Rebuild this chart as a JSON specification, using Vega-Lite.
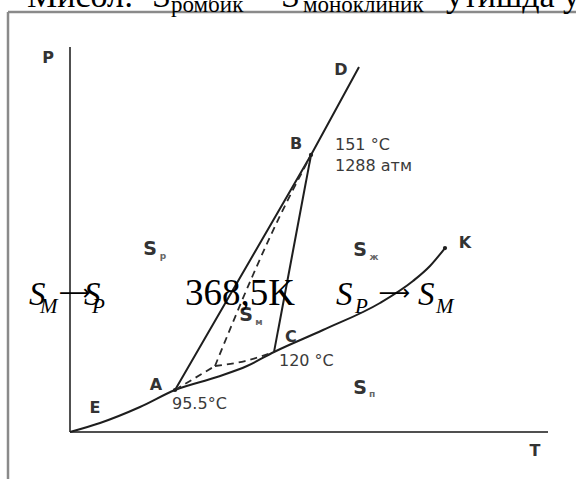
{
  "$schema": "https://vega.github.io/schema/vega-lite/v6.json",
  "width": 576,
  "height": 479,
  "autosize": {"type": "none"},
  "padding": 0,
  "background": "white",
  "config": {"view": {"stroke": null}},
  "datasets": {
    "frame": [
      {"edge": "left", "T": -12.97, "P": 109.09, "T2": -12.97, "P2": -13},
      {"edge": "top", "T": -12.97, "P": 109.09, "T2": 106, "P2": 109.09}
    ],
    "axes": [
      {"axis": "P", "T": 0, "P": 0, "T2": 0, "P2": 100},
      {"axis": "T", "T": 0, "P": 0, "T2": 100, "P2": 0}
    ],
    "curve": [
      {"i": 0, "T": 0, "P": 0},
      {"i": 1, "T": 6.28, "P": 2.34},
      {"i": 2, "T": 14.64, "P": 6.49},
      {"i": 3, "T": 21.97, "P": 10.91},
      {"i": 4, "T": 30.75, "P": 14.29},
      {"i": 5, "T": 37.03, "P": 17.14},
      {"i": 6, "T": 42.68, "P": 20.78},
      {"i": 7, "T": 52.93, "P": 26.49},
      {"i": 8, "T": 64.85, "P": 33.51},
      {"i": 9, "T": 71.76, "P": 39.22},
      {"i": 10, "T": 75.31, "P": 43.12},
      {"i": 11, "T": 78.45, "P": 47.79}
    ],
    "solid": [
      {"line": "ABD", "i": 0, "T": 21.97, "P": 10.91},
      {"line": "ABD", "i": 1, "T": 50.42, "P": 71.95},
      {"line": "ABD", "i": 2, "T": 60.46, "P": 94.81},
      {"line": "CB", "i": 0, "T": 42.68, "P": 20.78},
      {"line": "CB", "i": 1, "T": 50.42, "P": 71.95}
    ],
    "dashed": [
      {"line": "AO", "i": 0, "T": 21.97, "P": 10.91},
      {"line": "AO", "i": 1, "T": 30.33, "P": 17.14},
      {"line": "OC", "i": 0, "T": 30.33, "P": 17.14},
      {"line": "OC", "i": 1, "T": 36.61, "P": 18.44},
      {"line": "OC", "i": 2, "T": 42.68, "P": 20.78},
      {"line": "OB", "i": 0, "T": 30.33, "P": 17.14},
      {"line": "OB", "i": 1, "T": 38.28, "P": 40.78},
      {"line": "OB", "i": 2, "T": 41.84, "P": 50.65},
      {"line": "OB", "i": 3, "T": 50.42, "P": 71.95}
    ],
    "dots": [
      {"point": "A", "T": 21.97, "P": 10.91},
      {"point": "B", "T": 50.42, "P": 71.95},
      {"point": "K", "T": 78.45, "P": 47.79}
    ],
    "letters": [
      {"label": "P", "T": -4.6, "P": 97.14},
      {"label": "T", "T": 97.28, "P": -4.94},
      {"label": "E", "T": 5.23, "P": 6.23},
      {"label": "A", "T": 17.99, "P": 12.21},
      {"label": "B", "T": 47.28, "P": 74.81},
      {"label": "C", "T": 46.23, "P": 24.68},
      {"label": "D", "T": 56.69, "P": 94.03},
      {"label": "K", "T": 82.64, "P": 49.09}
    ],
    "values": [
      {"label": "95.5°C", "T": 21.34, "P": 7.27},
      {"label": "120 °C", "T": 43.72, "P": 18.44},
      {"label": "151 °C", "T": 55.44, "P": 74.55},
      {"label": "1288 атм", "T": 55.44, "P": 69.09}
    ],
    "phases": [
      {"phase": "ромбик", "label": "S", "T": 16.74, "P": 47.53},
      {"phase": "суюқ", "label": "S", "T": 60.67, "P": 47.27},
      {"phase": "моноклиник", "label": "S", "T": 36.82, "P": 30.39},
      {"phase": "буғ", "label": "S", "T": 60.67, "P": 11.43}
    ],
    "phaseSubs": [
      {"phase": "ромбик", "label": "р", "T": 19.46, "P": 45.71},
      {"phase": "суюқ", "label": "ж", "T": 63.6, "P": 45.45},
      {"phase": "моноклиник", "label": "м", "T": 39.54, "P": 28.57},
      {"phase": "буғ", "label": "п", "T": 63.18, "P": 9.87}
    ],
    "bigValue": [
      {"label": "368,5K", "T": 24.06, "P": 32.99}
    ],
    "eqS": [
      {"side": "left", "label": "S", "T": -8.58, "P": 32.99},
      {"side": "left", "label": "S", "T": 2.93, "P": 32.99},
      {"side": "right", "label": "S", "T": 55.65, "P": 32.99},
      {"side": "right", "label": "S", "T": 72.8, "P": 32.99}
    ],
    "eqSub": [
      {"side": "left", "label": "M", "T": -6.28, "P": 30.91},
      {"side": "left", "label": "P", "T": 4.6, "P": 30.91},
      {"side": "right", "label": "P", "T": 59.62, "P": 30.91},
      {"side": "right", "label": "M", "T": 76.57, "P": 30.91}
    ],
    "eqArrow": [
      {"side": "left", "label": "⟶", "T": -2.3, "P": 34.16},
      {"side": "right", "label": "⟶", "T": 64.6, "P": 34.16}
    ],
    "head": [
      {"label": "Мисол:", "T": -9.0, "P": 110.39},
      {"label": "S", "T": 17.15, "P": 110.39},
      {"label": "–", "T": 38.5, "P": 110.39},
      {"label": "S", "T": 44.14, "P": 110.39},
      {"label": "ўтишда у", "T": 78.66, "P": 110.39}
    ],
    "headSub": [
      {"label": "ромбик", "T": 21.13, "P": 109.09},
      {"label": "моноклиник", "T": 48.74, "P": 109.09}
    ]
  },
  "encoding": {
    "x": {"field": "T", "type": "quantitative", "scale": {"domain": [-14.644, 105.858], "nice": false, "zero": false}, "axis": null},
    "y": {"field": "P", "type": "quantitative", "scale": {"domain": [-12.208, 112.208], "nice": false, "zero": false}, "axis": null}
  },
  "layer": [
    {
      "data": {"name": "frame"},
      "mark": {"type": "rule", "color": "#8a8a8a", "strokeWidth": 2.5, "clip": true},
      "encoding": {"x2": {"field": "T2"}, "y2": {"field": "P2"}}
    },
    {
      "data": {"name": "axes"},
      "mark": {"type": "rule", "color": "#505050", "strokeWidth": 2},
      "encoding": {"x2": {"field": "T2"}, "y2": {"field": "P2"}}
    },
    {
      "data": {"name": "curve"},
      "mark": {"type": "line", "color": "#1e1e1e", "strokeWidth": 2, "interpolate": "monotone"},
      "encoding": {"order": {"field": "i", "type": "quantitative"}}
    },
    {
      "data": {"name": "solid"},
      "mark": {"type": "line", "color": "#1e1e1e", "strokeWidth": 2},
      "encoding": {"detail": {"field": "line"}, "order": {"field": "i", "type": "quantitative"}}
    },
    {
      "data": {"name": "dashed"},
      "mark": {"type": "line", "color": "#2a2a2a", "strokeWidth": 1.8, "strokeDash": [7, 5], "interpolate": "monotone"},
      "encoding": {"detail": {"field": "line"}, "order": {"field": "i", "type": "quantitative"}}
    },
    {
      "data": {"name": "dots"},
      "mark": {"type": "point", "filled": true, "color": "#1e1e1e", "size": 18, "opacity": 1},
      "encoding": {}
    },
    {
      "data": {"name": "letters"},
      "mark": {"type": "text", "font": "DejaVu Sans", "fontSize": 16, "fontWeight": "bold", "color": "#333333", "align": "center", "baseline": "middle"},
      "encoding": {"text": {"field": "label"}}
    },
    {
      "data": {"name": "values"},
      "mark": {"type": "text", "font": "DejaVu Sans", "fontSize": 16, "color": "#3a3a3a", "align": "left", "baseline": "middle"},
      "encoding": {"text": {"field": "label"}}
    },
    {
      "data": {"name": "phases"},
      "mark": {"type": "text", "font": "DejaVu Sans", "fontSize": 19, "fontWeight": "bold", "color": "#333333", "align": "center", "baseline": "middle"},
      "encoding": {"text": {"field": "label"}}
    },
    {
      "data": {"name": "phaseSubs"},
      "mark": {"type": "text", "font": "DejaVu Sans", "fontSize": 9, "fontWeight": "bold", "color": "#666666", "align": "center", "baseline": "middle"},
      "encoding": {"text": {"field": "label"}}
    },
    {
      "data": {"name": "bigValue"},
      "mark": {"type": "text", "font": "Liberation Serif", "fontSize": 37, "color": "#000000", "align": "left", "baseline": "alphabetic"},
      "encoding": {"text": {"field": "label"}}
    },
    {
      "data": {"name": "eqS"},
      "mark": {"type": "text", "font": "Liberation Serif", "fontSize": 33, "fontStyle": "italic", "color": "#000000", "align": "left", "baseline": "alphabetic"},
      "encoding": {"text": {"field": "label"}}
    },
    {
      "data": {"name": "eqSub"},
      "mark": {"type": "text", "font": "Liberation Serif", "fontSize": 21, "fontStyle": "italic", "color": "#000000", "align": "left", "baseline": "alphabetic"},
      "encoding": {"text": {"field": "label"}}
    },
    {
      "data": {"name": "eqArrow"},
      "mark": {"type": "text", "font": "DejaVu Sans", "fontSize": 22, "color": "#000000", "align": "left", "baseline": "alphabetic"},
      "encoding": {"text": {"field": "label"}}
    },
    {
      "data": {"name": "head"},
      "mark": {"type": "text", "font": "Liberation Serif", "fontSize": 34, "color": "#000000", "align": "left", "baseline": "alphabetic", "clip": true},
      "encoding": {"text": {"field": "label"}}
    },
    {
      "data": {"name": "headSub"},
      "mark": {"type": "text", "font": "Liberation Serif", "fontSize": 23, "color": "#000000", "align": "left", "baseline": "alphabetic", "clip": true},
      "encoding": {"text": {"field": "label"}}
    }
  ]
}
